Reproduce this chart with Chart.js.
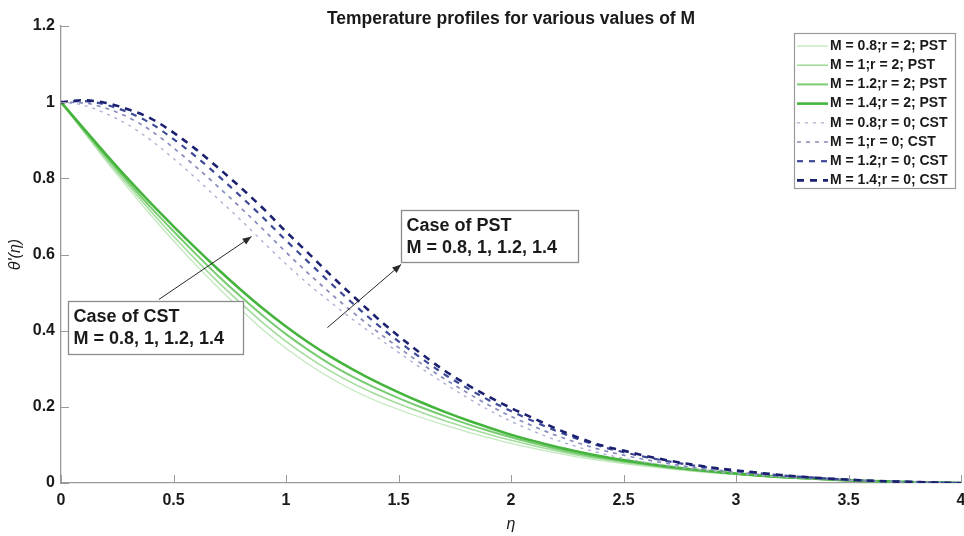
<!DOCTYPE html>
<html>
<head>
<meta charset="utf-8">
<script src="https://cdn.jsdelivr.net/npm/chart.js@4.4.1/dist/chart.umd.min.js"></script>
<style>
html,body{margin:0;padding:0;background:#ffffff;}
#wrap{width:964px;height:536px;position:relative;}
</style>
</head>
<body>
<div id="wrap"><canvas id="c" width="964" height="536"></canvas></div>
<script>
// ---------- data ----------
const eta = [0,0.1,0.2,0.3,0.4,0.5,0.6,0.7,0.8,0.9,1.0,1.1,1.2,1.3,1.4,1.5,1.6,1.7,1.8,1.9,2.0,
             2.1,2.2,2.3,2.4,2.5,2.6,2.7,2.8,2.9,3.0,3.1,3.2,3.3,3.4,3.5,3.6,3.7,3.8,3.9,4.0];

const pstM08 = [1.000,0.922,0.846,0.773,0.703,0.636,0.572,0.512,0.455,0.401,0.354,0.312,0.275,0.243,0.216,0.193,0.172,0.153,0.135,0.119,0.104,0.091,0.079,0.068,0.059,0.051,0.044,0.037,0.031,0.026,0.022,0.018,0.014,0.011,0.009,0.006,0.005,0.003,0.002,0.001,0.000];
const pstM10 = [1.000,0.925,0.851,0.781,0.713,0.648,0.586,0.527,0.472,0.419,0.372,0.330,0.293,0.261,0.233,0.208,0.186,0.165,0.146,0.128,0.112,0.098,0.085,0.073,0.063,0.054,0.047,0.040,0.033,0.028,0.023,0.019,0.015,0.012,0.009,0.007,0.005,0.003,0.002,0.001,0.000];
const pstM12 = [1.000,0.928,0.857,0.789,0.723,0.661,0.601,0.543,0.489,0.438,0.391,0.349,0.311,0.278,0.249,0.223,0.199,0.177,0.156,0.137,0.120,0.104,0.090,0.077,0.066,0.057,0.049,0.041,0.035,0.029,0.024,0.019,0.015,0.012,0.009,0.007,0.005,0.003,0.002,0.001,0.000];
const pstM14 = [1.000,0.931,0.863,0.797,0.734,0.674,0.616,0.560,0.507,0.457,0.411,0.369,0.331,0.297,0.266,0.238,0.212,0.188,0.166,0.146,0.127,0.110,0.095,0.082,0.070,0.060,0.051,0.043,0.036,0.030,0.025,0.020,0.016,0.013,0.010,0.007,0.005,0.004,0.002,0.001,0.000];

const cstM08 = [1.000,0.992,0.970,0.940,0.900,0.852,0.800,0.745,0.690,0.632,0.575,0.522,0.474,0.428,0.385,0.343,0.302,0.263,0.226,0.192,0.162,0.136,0.113,0.094,0.078,0.065,0.054,0.045,0.037,0.031,0.025,0.020,0.016,0.012,0.009,0.007,0.005,0.003,0.002,0.001,0.000];
const cstM10 = [1.000,0.998,0.984,0.960,0.925,0.880,0.830,0.777,0.722,0.665,0.606,0.550,0.497,0.447,0.400,0.356,0.314,0.275,0.239,0.205,0.175,0.149,0.125,0.105,0.087,0.073,0.061,0.051,0.042,0.035,0.029,0.023,0.018,0.014,0.011,0.008,0.006,0.004,0.002,0.001,0.000];
const cstM12 = [1.000,1.003,0.993,0.973,0.944,0.903,0.857,0.806,0.752,0.696,0.637,0.580,0.524,0.470,0.419,0.372,0.328,0.287,0.251,0.218,0.189,0.162,0.137,0.115,0.096,0.081,0.068,0.057,0.047,0.039,0.032,0.026,0.020,0.016,0.012,0.009,0.006,0.004,0.003,0.001,0.000];
const cstM14 = [1.000,1.005,0.998,0.981,0.957,0.920,0.876,0.827,0.775,0.720,0.660,0.603,0.545,0.490,0.436,0.386,0.340,0.297,0.260,0.227,0.197,0.170,0.143,0.119,0.099,0.085,0.071,0.059,0.049,0.040,0.033,0.027,0.021,0.016,0.012,0.009,0.006,0.004,0.003,0.001,0.000];

const seriesLabels = ['M = 0.8;r = 2; PST','M = 1;r = 2; PST','M = 1.2;r = 2; PST','M = 1.4;r = 2; PST',
                      'M = 0.8;r = 0; CST','M = 1;r = 0; CST','M = 1.2;r = 0; CST','M = 1.4;r = 0; CST'];
const xTicks = [0,0.5,1,1.5,2,2.5,3,3.5,4];
const xTickLabels = ['0','0.5','1','1.5','2','2.5','3','3.5','4'];
const yTicks = [0,0.2,0.4,0.6,0.8,1,1.2];
const yTickLabels = ['0','0.2','0.4','0.6','0.8','1','1.2'];
const titleText = 'Temperature profiles for various values of M';
const xTitle = 'η';
const yTitle = "θ'(η)";
const noteCST = ['Case of CST','M = 0.8, 1, 1.2, 1.4'];
const notePST = ['Case of PST','M = 0.8, 1, 1.2, 1.4'];

// ---------- styles ----------
const seriesValues = [pstM08,pstM10,pstM12,pstM14,cstM08,cstM10,cstM12,cstM14];
const styles = [
  {c:'#c2e8bd', w:1.3, d:[]},
  {c:'#a2dc9b', w:1.6, d:[]},
  {c:'#78cb70', w:2.0, d:[]},
  {c:'#45b43d', w:2.6, d:[]},
  {c:'#a9acd0', w:1.3, d:[3,5]},
  {c:'#868bbb', w:1.7, d:[4,5]},
  {c:'#3d4896', w:2.2, d:[6,6]},
  {c:'#1b2170', w:2.6, d:[7,6]}
];
const FONT = "'Liberation Sans', Arial, sans-serif";

const datasets = seriesValues.map((vals, k) => ({
  label: seriesLabels[k],
  data: eta.map((x, i) => ({x: x, y: vals[i]})),
  borderColor: styles[k].c,
  borderWidth: styles[k].w,
  borderDash: styles[k].d,
  pointRadius: 0,
  fill: false,
  tension: 0,
  cubicInterpolationMode: 'monotone',
  order: k < 4 ? 8 - k : 8 - k
}));

function arrow(ctx, x1, y1, x2, y2) {
  ctx.save();
  ctx.strokeStyle = '#2a2a2a';
  ctx.fillStyle = '#2a2a2a';
  ctx.lineWidth = 1;
  ctx.beginPath(); ctx.moveTo(x1, y1); ctx.lineTo(x2, y2); ctx.stroke();
  const a = Math.atan2(y2 - y1, x2 - x1), L = 9, W = 3.5;
  ctx.beginPath();
  ctx.moveTo(x2, y2);
  ctx.lineTo(x2 - L*Math.cos(a) + W*Math.sin(a), y2 - L*Math.sin(a) - W*Math.cos(a));
  ctx.lineTo(x2 - L*Math.cos(a) - W*Math.sin(a), y2 - L*Math.sin(a) + W*Math.cos(a));
  ctx.closePath(); ctx.fill();
  ctx.restore();
}

const decor = {
  id: 'decor',
  afterDraw(chart) {
    const ctx = chart.ctx, xs = chart.scales.x, ys = chart.scales.y, ca = chart.chartArea;
    ctx.save();
    // inward ticks
    ctx.strokeStyle = '#9a9a9a'; ctx.lineWidth = 1;
    xTicks.forEach(v => {
      const px = Math.round(xs.getPixelForValue(v)) + 0.5;
      ctx.beginPath(); ctx.moveTo(px, ca.bottom); ctx.lineTo(px, ca.bottom - 8); ctx.stroke();
    });
    yTicks.forEach(v => {
      const py = Math.round(ys.getPixelForValue(v)) + 0.5;
      ctx.beginPath(); ctx.moveTo(ca.left, py); ctx.lineTo(ca.left + 8, py); ctx.stroke();
    });
    // title
    ctx.fillStyle = '#1a1a1a';
    ctx.font = 'bold 17.5px ' + FONT;
    ctx.textAlign = 'center'; ctx.textBaseline = 'middle';
    ctx.fillText(titleText, (ca.left + ca.right) / 2, 19);

    // annotations
    const notes = [
      {lines: noteCST, b: [0.031, 0.479, 0.811, 0.339], tail: [0.435, 0.482], tip: [0.847, 0.647]},
      {lines: notePST, b: [1.512, 0.718, 2.297, 0.579], tail: [1.184, 0.408], tip: [1.512, 0.574]}
    ];
    notes.forEach(n => {
      arrow(ctx, xs.getPixelForValue(n.tail[0]), ys.getPixelForValue(n.tail[1]),
                 xs.getPixelForValue(n.tip[0]), ys.getPixelForValue(n.tip[1]));
      const x0 = Math.round(xs.getPixelForValue(n.b[0])) + 0.5, y0 = Math.round(ys.getPixelForValue(n.b[1])) + 0.5;
      const x1 = Math.round(xs.getPixelForValue(n.b[2])) + 0.5, y1 = Math.round(ys.getPixelForValue(n.b[3])) + 0.5;
      ctx.fillStyle = '#ffffff';
      ctx.fillRect(x0, y0, x1 - x0, y1 - y0);
      ctx.strokeStyle = '#8c8c8c'; ctx.lineWidth = 1.3;
      ctx.strokeRect(x0, y0, x1 - x0, y1 - y0);
      ctx.fillStyle = '#1a1a1a';
      ctx.font = 'bold 18px ' + FONT;
      ctx.textAlign = 'left'; ctx.textBaseline = 'middle';
      ctx.fillText(n.lines[0], x0 + 5, y0 + 16);
      ctx.fillText(n.lines[1], x0 + 5, y0 + 38);
    });

    // legend
    const lx1 = ca.right - 6, lx0 = lx1 - 161, ly0 = 33, rowH = 19.2;
    ctx.fillStyle = '#ffffff';
    ctx.fillRect(lx0 + 0.5, ly0 + 0.5, lx1 - lx0, 155);
    ctx.strokeStyle = '#9a9a9a'; ctx.lineWidth = 1.2;
    ctx.strokeRect(lx0 + 0.5, ly0 + 0.5, lx1 - lx0, 155);
    chart.data.datasets.forEach((ds, i) => {
      const yy = ly0 + 13 + i * rowH;
      ctx.save();
      ctx.strokeStyle = ds.borderColor; ctx.lineWidth = ds.borderWidth;
      ctx.setLineDash(ds.borderDash || []);
      ctx.beginPath(); ctx.moveTo(lx0 + 3, yy); ctx.lineTo(lx0 + 34, yy); ctx.stroke();
      ctx.restore();
      ctx.fillStyle = '#1a1a1a';
      ctx.font = 'bold 14px ' + FONT;
      ctx.textAlign = 'left'; ctx.textBaseline = 'middle';
      ctx.fillText(ds.label, lx0 + 36, yy);
    });
    ctx.restore();
  }
};

new Chart(document.getElementById('c'), {
  type: 'line',
  data: {datasets: datasets},
  plugins: [decor],
  options: {
    responsive: false,
    animation: false,
    devicePixelRatio: 1,
    layout: {padding: {top: 26, right: 3, left: 0, bottom: 0}},
    plugins: {legend: {display: false}, title: {display: false}, tooltip: {enabled: false}},
    scales: {
      x: {
        type: 'linear', min: 0, max: 4,
        afterBuildTicks: s => { s.ticks = xTicks.map(v => ({value: v})); },
        afterFit: s => { s.height = 53; s.paddingLeft = 0; s.paddingRight = 0; },
        grid: {drawOnChartArea: false, drawTicks: false, color: '#9a9a9a'},
        border: {color: '#9a9a9a', width: 1.3},
        ticks: {padding: 8, color: '#1a1a1a', font: {family: FONT, size: 16, weight: 'bold'},
                maxRotation: 0, autoSkip: false,
                callback: (v, i) => xTickLabels[i]},
        title: {display: true, text: xTitle, color: '#1a1a1a', padding: {top: 2, bottom: 2},
                font: {family: FONT, size: 16, style: 'italic'}}
      },
      y: {
        type: 'linear', min: 0, max: 1.2,
        afterBuildTicks: s => { s.ticks = yTicks.map(v => ({value: v})); },
        afterFit: s => { s.width = 61; s.paddingTop = 0; s.paddingBottom = 0; },
        grid: {drawOnChartArea: false, drawTicks: false, color: '#9a9a9a'},
        border: {color: '#9a9a9a', width: 1.3},
        ticks: {padding: 6, color: '#1a1a1a', font: {family: FONT, size: 16, weight: 'bold'},
                autoSkip: false, callback: (v, i) => yTickLabels[i]},
        title: {display: true, text: yTitle, color: '#1a1a1a', padding: {top: 6, bottom: 0},
                font: {family: FONT, size: 16, style: 'italic'}}
      }
    }
  }
});
</script>
</body>
</html>
